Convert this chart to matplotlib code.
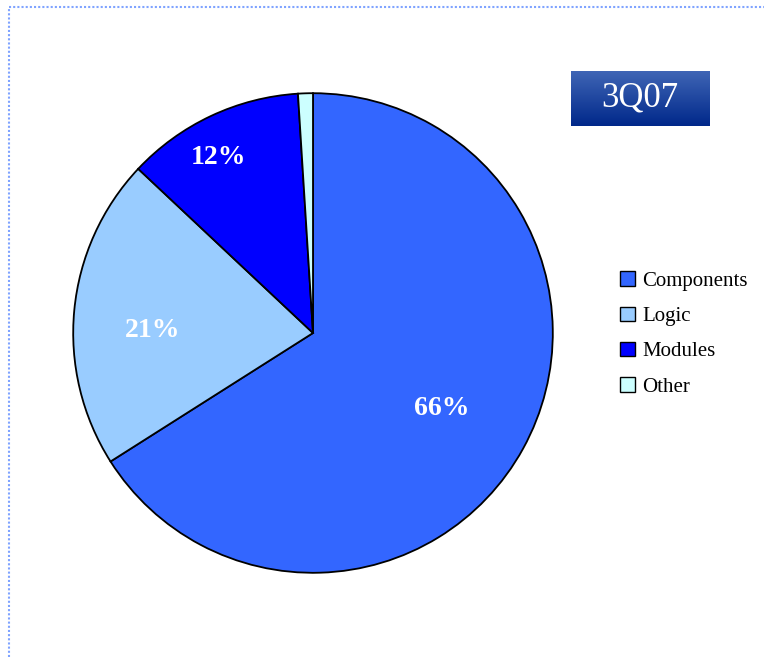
import numpy as np
import matplotlib
matplotlib.use("Agg")
import matplotlib.pyplot as plt
from matplotlib.lines import Line2D
from matplotlib.patches import Patch

# share by segment, 3Q07
labels = ["Components", "Logic", "Modules", "Other"]
shares = [66, 21, 12, 1]
colors = ["#3366FF", "#99CCFF", "#0000FF", "#CCFFFF"]
title = "3Q07"

plt.rcParams['font.family'] = ['Liberation Serif', 'DejaVu Serif']

W, H = 764, 657
fig = plt.figure(figsize=(W / 100, H / 100), dpi=100)
fig.patch.set_facecolor("white")

# pie axes: centre (313, 333) px, radius 241 px
cx, cy, r = 313, 333, 241
ax = fig.add_axes([(cx - r) / W, (H - cy - r) / H, 2 * r / W, 2 * r / H])
wedges, _ = ax.pie(shares, colors=colors, startangle=90, counterclock=False,
                   wedgeprops=dict(edgecolor="black", linewidth=1.3))
ax.set_xlim(-1.005, 1.005)
ax.set_ylim(-1.005, 1.005)
ax.set_aspect("equal")
ax.axis("off")

# percentage labels: (distance from centre, turn from mid angle in degrees)
label_pos = [(0.62, -1.5), (0.67, 4.5), (0.83, 3), None]
for w, s, p in zip(wedges, shares, label_pos):
    if p is None:
        continue
    d, turn = p
    ang = np.deg2rad((w.theta1 + w.theta2) / 2 + turn)
    ax.text(d * np.cos(ang), d * np.sin(ang), f"{s}%", ha="center", va="center",
            color="white", fontsize=20, fontweight="bold")

# legend
handles = [Patch(facecolor=c, edgecolor="black", linewidth=1.0) for c in colors]
fig.legend(handles, labels, loc="upper left", bbox_to_anchor=(612 / W, 1 - 263 / H),
           frameon=False, fontsize=15, handlelength=0.7, handleheight=0.7,
           handletextpad=0.35, labelspacing=0.75, borderaxespad=0)

# title box with vertical gradient
tax = fig.add_axes([571 / W, 1 - 126 / H, 138 / W, 55 / H])
top = np.array([0x3f, 0x65, 0xb5]) / 255
bot = np.array([0x00, 0x28, 0x8a]) / 255
t = np.linspace(0, 1, 64)[:, None]
grad = (top * (1 - t) + bot * t)[:, None, :]
tax.imshow(grad, aspect="auto", extent=[0, 1, 0, 1])
tax.axis("off")
tax.text(0.5, 0.5, title, ha="center", va="center", color="white", fontsize=25)

# dotted frame on top and left
border = "#7fa3ff"
fig.add_artist(Line2D([9 / W, 1], [1 - 7 / H, 1 - 7 / H], transform=fig.transFigure,
                      color=border, linestyle=(0, (1, 1)), linewidth=1.5))
fig.add_artist(Line2D([9 / W, 9 / W], [0, 1 - 7 / H], transform=fig.transFigure,
                      color=border, linestyle=(0, (1, 1)), linewidth=1.5))

fig.savefig("out.png", dpi=100)
